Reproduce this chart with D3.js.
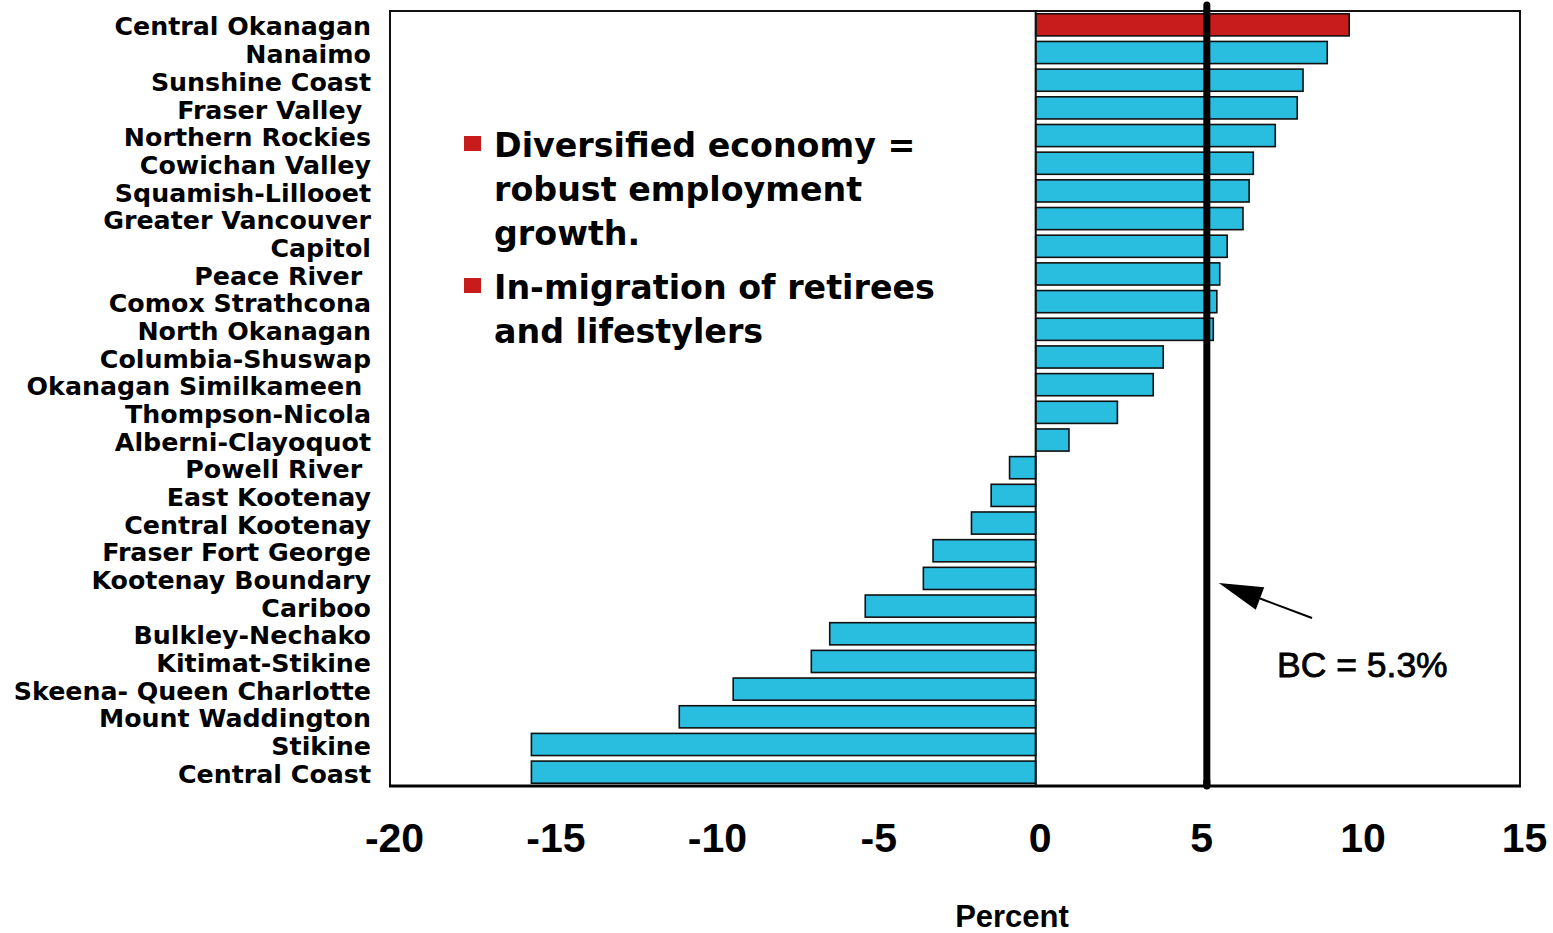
<!DOCTYPE html>
<html>
<head>
<meta charset="utf-8">
<script src="https://cdn.jsdelivr.net/npm/d3@7"></script>
<style>
  html, body { margin: 0; padding: 0; background: #ffffff; }
  svg { display: block; }
  .cat text { font-family: "DejaVu Sans", sans-serif; font-weight: 700; font-size: 25.3px; fill: #000; white-space: pre; }
  .xaxis text { font-family: "Liberation Sans", Arial, sans-serif; font-weight: 700; font-size: 41px; fill: #000; }
  .note { font-family: "DejaVu Sans", sans-serif; font-weight: 700; font-size: 33.3px; fill: #000; }
</style>
</head>
<body>
<svg id="chart" width="1553" height="933"></svg>
<script>
// Regional districts, top to bottom
const regions = [
  "Central Okanagan", "Nanaimo", "Sunshine Coast", "Fraser Valley ", "Northern Rockies",
  "Cowichan Valley", "Squamish-Lillooet", "Greater Vancouver", "Capitol", "Peace River ",
  "Comox Strathcona", "North Okanagan", "Columbia-Shuswap", "Okanagan Similkameen ",
  "Thompson-Nicola", "Alberni-Clayoquot", "Powell River ", "East Kootenay", "Central Kootenay",
  "Fraser Fort George", "Kootenay Boundary", "Cariboo", "Bulkley-Nechako", "Kitimat-Stikine",
  "Skeena- Queen Charlotte", "Mount Waddington", "Stikine", "Central Coast"
];

// Percent change for each district
const change = [
  9.71, 9.03, 8.28, 8.10, 7.42,
  6.74, 6.61, 6.42, 5.93, 5.70,
  5.61, 5.50, 3.95, 3.64,
  2.53, 1.03, -0.81, -1.38, -1.99,
  -3.18, -3.48, -5.28, -6.38, -6.95,
  -9.37, -11.04, -15.62, -15.62
];

const highlighted = ["Central Okanagan"];
const xTicks = [-20, -15, -10, -5, 0, 5, 10, 15];
const bcTotal = 5.3;
const bcLabel = "BC = 5.3%";
const axisTitle = "Percent";
const notes = [
  ["Diversified economy =", "robust employment", "growth."],
  ["In-migration of retirees", "and lifestylers"]
];

const rows = regions.map((r, i) => ({ region: r, value: change[i] }));

const svg = d3.select("#chart");
const plot = { left: 390, right: 1520, top: 11, bottom: 786 };

const x = d3.scaleLinear().domain([-20, 15]).range([plot.left, plot.right]);
const y = d3.scaleBand().domain(regions).range([plot.top, plot.bottom])
  .paddingInner(0.2).paddingOuter(0.1);

// Bars
svg.append("g").selectAll("rect").data(rows).join("rect")
  .attr("x", d => x(Math.min(0, d.value)))
  .attr("y", d => y(d.region))
  .attr("width", d => Math.abs(x(d.value) - x(0)))
  .attr("height", y.bandwidth())
  .attr("fill", d => highlighted.includes(d.region) ? "#c81b1b" : "#29bde0")
  .attr("stroke", "#111")
  .attr("stroke-width", 1.6);

// Plot frame
svg.append("rect")
  .attr("x", plot.left).attr("y", plot.top)
  .attr("width", plot.right - plot.left).attr("height", plot.bottom - plot.top)
  .attr("fill", "none").attr("stroke", "#111").attr("stroke-width", 2);
svg.append("line")
  .attr("x1", plot.left - 1).attr("x2", plot.right + 1)
  .attr("y1", plot.bottom).attr("y2", plot.bottom)
  .attr("stroke", "#000").attr("stroke-width", 3);

// Zero line
svg.append("line")
  .attr("x1", x(0)).attr("x2", x(0))
  .attr("y1", plot.top).attr("y2", plot.bottom)
  .attr("stroke", "#111").attr("stroke-width", 2);

// Provincial total reference line
const bcX = x(bcTotal);
svg.append("line")
  .attr("x1", bcX).attr("x2", bcX)
  .attr("y1", plot.top - 6).attr("y2", plot.bottom)
  .attr("stroke", "#000").attr("stroke-width", 7).attr("stroke-linecap", "round");
svg.append("line")
  .attr("x1", bcX).attr("x2", bcX)
  .attr("y1", plot.bottom - 6).attr("y2", plot.bottom)
  .attr("stroke", "#000").attr("stroke-width", 7);

// Arrow pointing at the reference line
const tip = [bcX + 12, 583], tail = [1312, 618];
const ang = Math.atan2(tail[1] - tip[1], tail[0] - tip[0]);
const headLen = 44, headHalf = 12;
const bx = tip[0] + headLen * Math.cos(ang), by = tip[1] + headLen * Math.sin(ang);
const px = -Math.sin(ang) * headHalf, py = Math.cos(ang) * headHalf;
svg.append("line")
  .attr("x1", bx).attr("y1", by).attr("x2", tail[0]).attr("y2", tail[1])
  .attr("stroke", "#000").attr("stroke-width", 2);
svg.append("path")
  .attr("d", `M${tip[0]},${tip[1]}L${bx + px},${by + py}L${bx - px},${by - py}Z`)
  .attr("fill", "#000");

svg.append("text")
  .attr("x", 1277).attr("y", 677)
  .style("font-family", "'Liberation Sans', Arial, sans-serif")
  .style("font-size", "35.5px").style("fill", "#000")
  .style("stroke", "#000").style("stroke-width", "0.8px")
  .text(bcLabel);

// Category axis
const yAxis = svg.append("g").attr("class", "cat")
  .attr("transform", `translate(371,0)`)
  .call(d3.axisLeft(y).tickSize(0).tickPadding(0));
yAxis.select(".domain").remove();
yAxis.selectAll("text").attr("dy", "0.42em").attr("x", 0);

// Value axis
const xAxis = svg.append("g").attr("class", "xaxis")
  .attr("transform", `translate(0,${plot.bottom})`)
  .call(d3.axisBottom(x).tickValues(xTicks).tickSize(0).tickFormat(d => String(d)));
xAxis.select(".domain").remove();
xAxis.selectAll("text").attr("y", 66).attr("dy", 0).attr("dx", 4);

svg.append("text")
  .attr("x", 1012).attr("y", 927).attr("text-anchor", "middle")
  .style("font-family", "'Liberation Sans', Arial, sans-serif")
  .style("font-weight", 700).style("font-size", "31px").style("fill", "#000")
  .text(axisTitle);

// Bulleted notes
const noteTops = [157, 299];
notes.forEach((lines, k) => {
  svg.append("rect")
    .attr("x", 464).attr("y", noteTops[k] - 21)
    .attr("width", 17).attr("height", 15)
    .attr("fill", "#c81b1b");
  lines.forEach((t, j) => {
    svg.append("text").attr("class", "note")
      .attr("x", 494).attr("y", noteTops[k] + j * 44)
      .text(t);
  });
});
</script>
</body>
</html>
